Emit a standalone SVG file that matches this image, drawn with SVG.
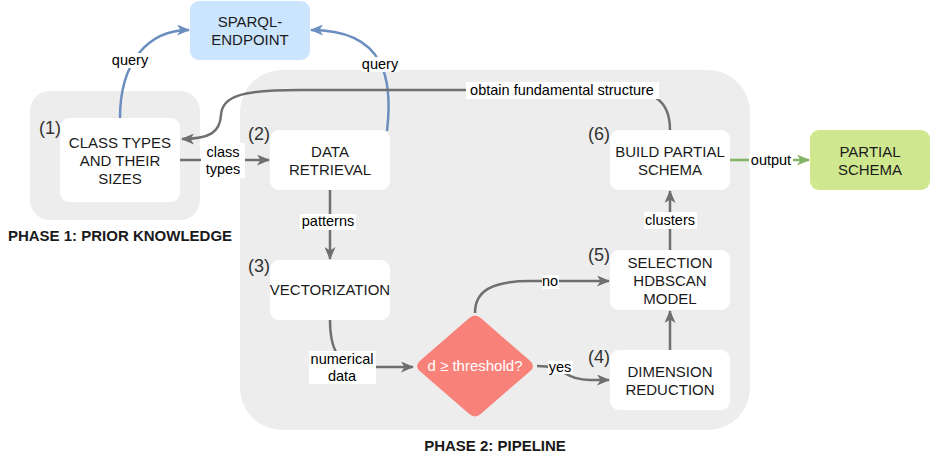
<svg xmlns="http://www.w3.org/2000/svg" width="931" height="461" viewBox="0 0 931 461">
<style>
text{font-family:"Liberation Sans",Arial,sans-serif;}
.grp{fill:#ededed;}
.node{fill:#ffffff;}
.nt{font-size:15px;fill:#1a1a1a;text-anchor:middle;}
.num{font-size:18px;fill:#333333;text-anchor:middle;}
.lbl{font-size:14.5px;fill:#000000;text-anchor:middle;}
.lbg{fill:#ffffff;}
.phase{font-size:15px;font-weight:bold;fill:#1a1a1a;text-anchor:middle;}
.e{fill:none;stroke:#6f6f6f;stroke-width:2.5;marker-end:url(#ag);}
.eb{fill:none;stroke:#6c8ebf;stroke-width:2.5;marker-end:url(#ab);}
.eg{fill:none;stroke:#82b366;stroke-width:2.5;marker-end:url(#agr);}
</style>
<defs>
<marker id="ag" viewBox="0 0 13 11" refX="12" refY="5.5" markerWidth="13" markerHeight="11" markerUnits="userSpaceOnUse" orient="auto"><path d="M0,0 L13,5.5 L0,11 L3.5,5.5 z" fill="#6f6f6f"/></marker>
<marker id="ab" viewBox="0 0 13 11" refX="12" refY="5.5" markerWidth="13" markerHeight="11" markerUnits="userSpaceOnUse" orient="auto"><path d="M0,0 L13,5.5 L0,11 L3.5,5.5 z" fill="#6c8ebf"/></marker>
<marker id="agr" viewBox="0 0 13 11" refX="12" refY="5.5" markerWidth="13" markerHeight="11" markerUnits="userSpaceOnUse" orient="auto"><path d="M0,0 L13,5.5 L0,11 L3.5,5.5 z" fill="#82b366"/></marker>
</defs>

<g id="phase1">
<rect class="grp" x="30" y="91" width="170" height="129" rx="20"/>
<text class="phase" x="120" y="241">PHASE 1: PRIOR KNOWLEDGE</text>
</g>
<g id="phase2">
<rect class="grp" x="240" y="70" width="510" height="360" rx="42"/>
<text class="phase" x="495" y="451">PHASE 2: PIPELINE</text>
</g>

<g id="sparql">
<rect x="190" y="1" width="120" height="59" rx="9" fill="#cce5ff"/>
<text class="nt" x="250" y="27">SPARQL-</text>
<text class="nt" x="250" y="45">ENDPOINT</text>
</g>

<g id="classtypes">
<rect class="node" x="60" y="118" width="120" height="84" rx="9"/>
<text class="num" x="50" y="134">(1)</text>
<text class="nt" x="120" y="148">CLASS TYPES</text>
<text class="nt" x="120" y="166">AND THEIR</text>
<text class="nt" x="120" y="184">SIZES</text>
</g>

<g id="dataretrieval">
<rect class="node" x="270" y="130" width="120" height="60" rx="9"/>
<text class="num" x="259" y="140">(2)</text>
<text class="nt" x="330" y="157">DATA</text>
<text class="nt" x="330" y="175">RETRIEVAL</text>
</g>

<g id="vectorization">
<rect class="node" x="270" y="260" width="120" height="60" rx="9"/>
<text class="num" x="259" y="272">(3)</text>
<text class="nt" x="330" y="295">VECTORIZATION</text>
</g>

<g id="decision">
<path d="M469,318.2 Q475,313 481,318.2 L530,360.8 Q536,366 530,371.2 L481,413.8 Q475,419 469,413.8 L420,371.2 Q414,366 420,360.8 Z" fill="#f8827a"/>
<text x="475" y="371" text-anchor="middle" font-size="15px" fill="#ffffff">d ≥ threshold?</text>
</g>

<g id="selection">
<rect class="node" x="610" y="250" width="120" height="60" rx="9"/>
<text class="num" x="599" y="261">(5)</text>
<text class="nt" x="670" y="268">SELECTION</text>
<text class="nt" x="670" y="286">HDBSCAN</text>
<text class="nt" x="670" y="304">MODEL</text>
</g>

<g id="dimred">
<rect class="node" x="610" y="350" width="120" height="60" rx="9"/>
<text class="num" x="599" y="363">(4)</text>
<text class="nt" x="670" y="377">DIMENSION</text>
<text class="nt" x="670" y="395">REDUCTION</text>
</g>

<g id="buildschema">
<rect class="node" x="610" y="130" width="120" height="60" rx="9"/>
<text class="num" x="599" y="140">(6)</text>
<text class="nt" x="670" y="157">BUILD PARTIAL</text>
<text class="nt" x="670" y="175">SCHEMA</text>
</g>

<g id="partialschema">
<rect x="810" y="130" width="120" height="60" rx="9" fill="#cfe88f"/>
<text class="nt" x="870" y="157">PARTIAL</text>
<text class="nt" x="870" y="175">SCHEMA</text>
</g>

<g id="connectors">
<path class="eb" d="M120,118 C120,62 148,30 189,30"/>
<path class="eb" d="M387,131 C393,80 386,30 311,30"/>
<path class="e" d="M180,160 L269,160"/>
<path class="e" d="M670,130 C670,98 652,90 612,90 L300,90 C242,90 222,96 221,115 C220,132 210,139 182,139"/>
<path class="e" d="M330,190 L330,259"/>
<path class="e" d="M330,320 C330,345 336,367 362,367 L413,367"/>
<path class="e" d="M475,313 C475,292 490,281 530,281 L609,281"/>
<path class="e" d="M537,366 C566,366 564,380 590,380 L609,380"/>
<path class="e" d="M670,350 L670,311"/>
<path class="e" d="M670,250 L670,191"/>
<path class="eg" d="M730,160 L809,160"/>

<rect class="lbg" x="110" y="53" width="39" height="15"/>
<text class="lbl" x="130" y="65">query</text>
<rect class="lbg" x="361" y="57" width="39" height="15"/>
<text class="lbl" x="380" y="69">query</text>
<rect class="lbg" x="201" y="143" width="44" height="35"/>
<text class="lbl" x="223" y="157">class</text>
<text class="lbl" x="223" y="174">types</text>
<rect class="lbg" x="466" y="82" width="193" height="17"/>
<text class="lbl" x="562" y="95">obtain fundamental structure</text>
<rect class="lbg" x="300" y="214" width="56" height="16"/>
<text class="lbl" x="328" y="226">patterns</text>
<rect class="lbg" x="309" y="351" width="67" height="33"/>
<text class="lbl" x="342" y="364">numerical</text>
<text class="lbl" x="342" y="381">data</text>
<rect class="lbg" x="542" y="275" width="17" height="14"/>
<text class="lbl" x="550" y="286">no</text>
<rect class="lbg" x="548" y="361" width="25" height="13"/>
<text class="lbl" x="560" y="372">yes</text>
<rect class="lbg" x="644" y="212" width="53" height="17"/>
<text class="lbl" x="670" y="225">clusters</text>
<rect class="lbg" x="749" y="154" width="44" height="15"/>
<text class="lbl" x="771" y="165">output</text>
</g>
</svg>
